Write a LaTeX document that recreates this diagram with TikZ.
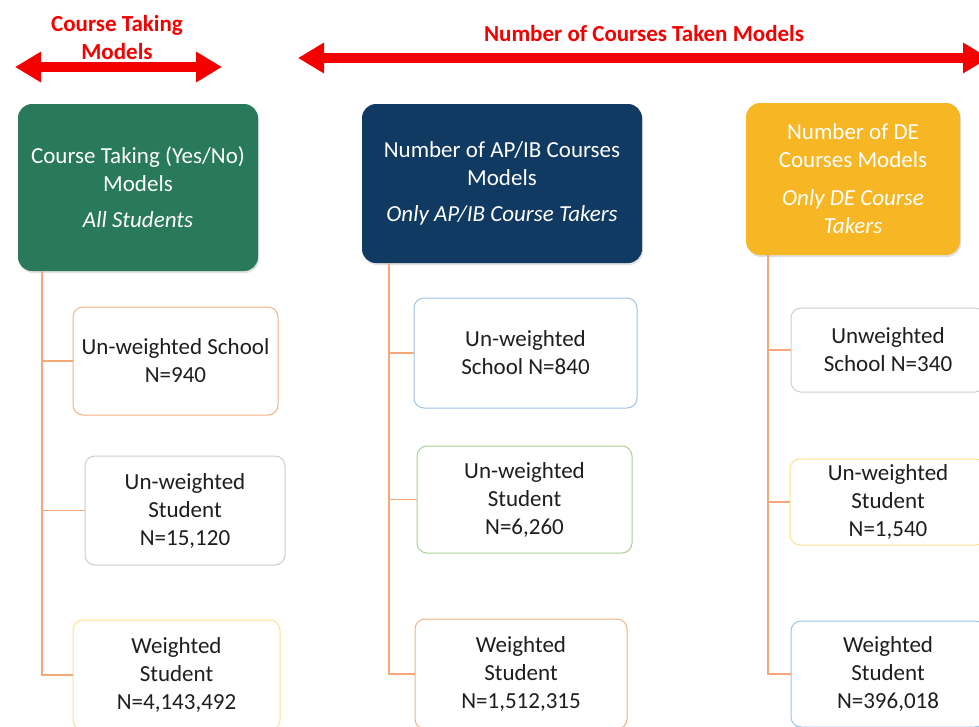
\documentclass[tikz,border=0pt]{standalone}
\usepackage{fontspec}
\setmainfont{Carlito}
\usetikzlibrary{arrows.meta,shadows}
\definecolor{hgreen}{RGB}{40,122,90}
\definecolor{hnavy}{RGB}{16,58,98}
\definecolor{horange}{RGB}{247,182,35}
\definecolor{arrred}{RGB}{245,0,0}
\definecolor{connc}{RGB}{242,168,120}
\definecolor{bdorange}{RGB}{244,177,131}
\definecolor{bdgray}{RGB}{205,205,205}
\definecolor{bdyellow}{RGB}{255,226,140}
\definecolor{bdblue}{RGB}{157,195,230}
\definecolor{bdgreen}{RGB}{169,209,142}
\definecolor{txt}{RGB}{30,30,30}
\newcommand{\bodyfont}{\fontsize{23}{28}\selectfont}
\tikzset{
  hdr/.style={rounded corners=14pt, text=white, align=center, font=\bodyfont, inner sep=0pt,
    drop shadow={opacity=0.25, shadow xshift=1pt, shadow yshift=-2pt}},
  child/.style={draw, rounded corners=10pt, fill=white, align=center, font=\bodyfont,
    text=txt, line width=1pt, inner sep=0pt},
  conn/.style={draw=connc, line width=1.5pt},
  bigarrow/.style={arrred, line width=10pt,
    {Triangle[length=26pt,width=29pt]}-{Triangle[length=26pt,width=29pt]}},
  toplabel/.style={text=arrred, font=\bfseries\bodyfont, align=center, inner sep=0pt}
}
\begin{document}
\begin{tikzpicture}[x=1pt,y=-1pt]
\useasboundingbox (0,0) rectangle (979,726);
\clip (0,0) rectangle (979,726);
% top labels and arrows
\node[toplabel] (lt) at (117,38) {Course Taking\\Models};
\coordinate (la1) at (15,67);
\coordinate (la2) at (222,67);
\draw[bigarrow] (la1) -- (la2);
\node[toplabel] (rt) at (644,34) {Number of Courses Taken Models};
\coordinate (ra1) at (298,58);
\coordinate (ra2) at (989,58);
\draw[bigarrow] (ra1) -- (ra2);
% headers
\node[hdr, fill=hgreen, minimum width=240pt, minimum height=167pt] (g) at (138,187.5)
  {Course Taking (Yes/No)\\Models\\[8pt]\textit{All Students}};
\node[hdr, fill=hnavy, minimum width=280pt, minimum height=159pt] (n) at (502,183.5)
  {Number of AP/IB Courses\\Models\\[8pt]\textit{Only AP/IB Course Takers}};
\node[hdr, fill=horange, minimum width=214pt, minimum height=152pt] (o) at (853,179)
  {Number of DE\\Courses Models\\[10pt]\textit{Only DE Course}\\\textit{Takers}};
% column 1
\node[child, draw=bdorange, minimum width=205pt, minimum height=108pt] (c11) at (175.5,361)
  {Un-weighted School\\N=940};
\node[child, draw=bdgray, minimum width=200pt, minimum height=109pt] (c12) at (185,510.5)
  {Un-weighted\\Student\\N=15,120};
\node[child, draw=bdyellow, minimum width=207pt, minimum height=110pt] (c13) at (176.5,675)
  {Weighted\\Student\\N=4,143,492};
% column 2
\node[child, draw=bdblue, minimum width=223pt, minimum height=110pt] (c21) at (525.5,353)
  {Un-weighted\\School N=840};
\node[child, draw=bdgreen, minimum width=215pt, minimum height=107pt] (c22) at (524.5,499.5)
  {Un-weighted\\Student\\N=6,260};
\node[child, draw=bdorange, minimum width=212pt, minimum height=110pt] (c23) at (521,674)
  {Weighted\\Student\\N=1,512,315};
% column 3
\node[child, draw=bdgray, minimum width=194pt, minimum height=84pt] (c31) at (888,350)
  {Unweighted\\School N=340};
\node[child, draw=bdyellow, minimum width=196pt, minimum height=86pt] (c32) at (888,502)
  {Un-weighted\\Student\\N=1,540};
\node[child, draw=bdblue, minimum width=194pt, minimum height=106pt] (c33) at (888,674)
  {Weighted\\Student\\N=396,018};
% connectors
\coordinate (g0) at ([xshift=24pt]g.south west);
\coordinate (n0) at ([xshift=27pt]n.south west);
\coordinate (o0) at ([xshift=22pt]o.south west);
\begin{scope}[on background layer/.try]
\draw[conn] (g0) |- (c13.west);
\draw[conn] (g0 |- c11.west) -- (c11.west);
\draw[conn] (g0 |- c12.west) -- (c12.west);
\draw[conn] (n0) |- (c23.west);
\draw[conn] (n0 |- c21.west) -- (c21.west);
\draw[conn] (n0 |- c22.west) -- (c22.west);
\draw[conn] (o0) |- (c33.west);
\draw[conn] (o0 |- c31.west) -- (c31.west);
\draw[conn] (o0 |- c32.west) -- (c32.west);
\end{scope}
\end{tikzpicture}
\end{document}
